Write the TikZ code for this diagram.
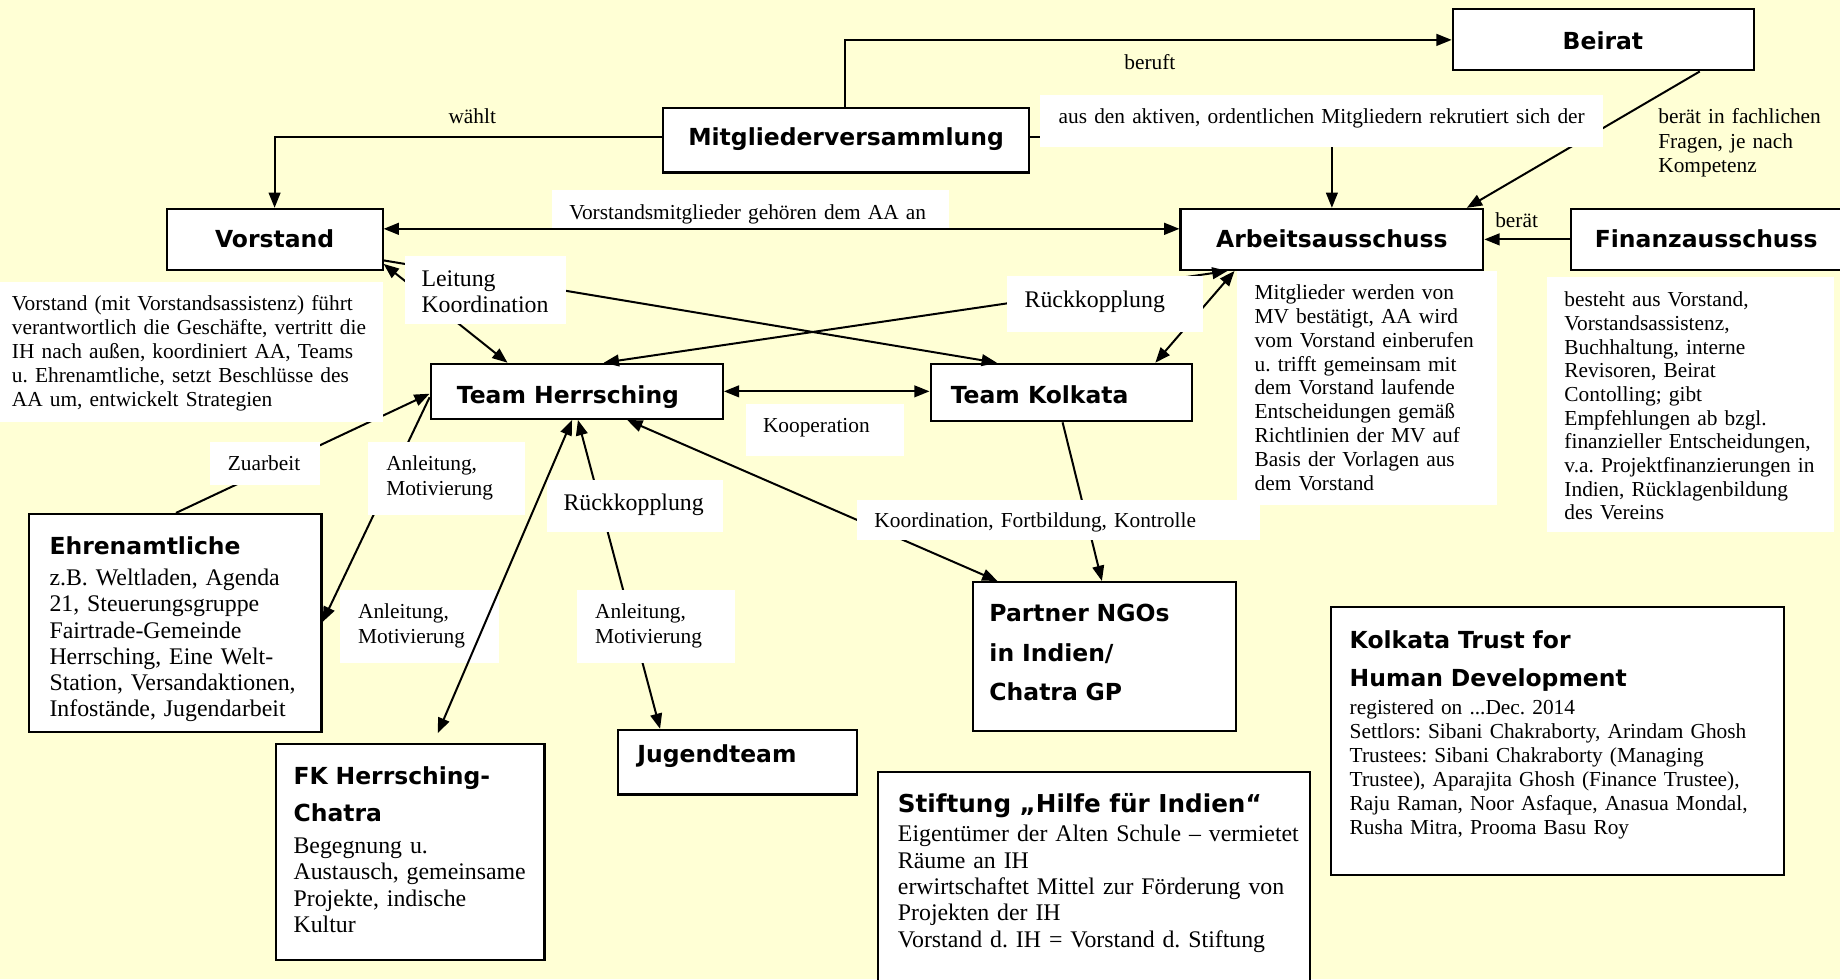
\documentclass[tikz,border=0pt]{standalone}
\usepackage{fontspec}
\setmainfont{Liberation Serif}
\newfontfamily\titlefont{DejaVu Sans}
\usetikzlibrary{arrows.meta}
\frenchspacing
\definecolor{bgyellow}{HTML}{FFFFD5}
\tikzset{
  box/.style={draw=black, line width=1.8pt, fill=white, inner sep=0pt},
  ttl/.style={inner sep=0pt, yshift=-5.5pt, font={\titlefont\bfseries\fontsize{20}{24}\selectfont}},
  ttlm/.style={inner sep=0pt, yshift=-5.5pt, anchor=mid west, align=left, text width=420pt},
  body/.style={inner sep=0pt, yshift=-5pt, anchor=mid west, align=left, text width=480pt, font={\fontsize{18.2}{20.5}\selectfont}},
  big/.style={inner sep=0pt, yshift=-5pt, anchor=mid west, align=left, text width=480pt, font={\fontsize{20.3}{22.4}\selectfont}},
  con/.style={line width=1.7pt, ->},
  bcon/.style={line width=1.7pt, <->},
  lbg/.style={fill=white},
}
\begin{document}
\begin{tikzpicture}[x=1pt, y=-1pt, >={Triangle[length=13pt,width=10pt]}]
\useasboundingbox (0,0) rectangle (1568,834.3);
\clip (0,0) rectangle (1568,834.3);
\fill[bgyellow] (0,0) rectangle (1568,834.3);

% boxes
\node[box, minimum width=257pt, minimum height=52pt] (beirat) at (1366.5,34) {};
\node[box, minimum width=312pt, minimum height=55pt] (mv) at (721,119.5) {};
\node[box, minimum width=184pt, minimum height=52pt] (vorstand) at (234,204) {};
\node[box, minimum width=258pt, minimum height=52pt] (aa) at (1135,204) {};
\node[box, minimum width=241pt, minimum height=52pt] (fa) at (1459.5,204) {};
\node[box, minimum width=249pt, minimum height=47pt] (th) at (491.5,333.5) {};
\node[box, minimum width=223pt, minimum height=49pt] (tk) at (904.5,334.5) {};
\node[box, minimum width=249pt, minimum height=186pt] (ehr) at (149.5,531) {};
\node[box, minimum width=229pt, minimum height=184pt] (fk) at (349.5,726) {};
\node[box, minimum width=203pt, minimum height=55pt] (jt) at (628.5,649.5) {};
\node[box, minimum width=224pt, minimum height=127pt] (ngo) at (941,559.5) {};
\node[box, minimum width=368pt, minimum height=192pt] (stift) at (932,754) {};
\node[box, minimum width=386pt, minimum height=229pt] (kt) at (1327,631.5) {};

% connectors
\draw[con] ([yshift=3pt]mv.west) -| (vorstand.north);
\draw[con] ([xshift=-1pt]mv.north) |- (beirat.west);
\draw[con] ([yshift=3pt]mv.east) -| (aa.north);
\draw[con] ([xshift=82pt]beirat.south) -- ([xshift=115pt]aa.north);
\draw[con] (fa.west) -- (aa.east);
\draw[bcon] ([yshift=9pt]vorstand.east) -- ([yshift=9pt]aa.west);
\draw[bcon] ([yshift=6pt]vorstand.south east) -- ([xshift=-59pt]th.north);
\draw[con] ([yshift=9pt]vorstand.south east) -- ([xshift=-55pt]tk.north);
\draw[bcon] ([xshift=23pt]th.north) -- ([xshift=-89pt]aa.south);
\draw[bcon] ([xshift=80pt]tk.north) -- ([xshift=-83pt]aa.south);
\draw[bcon] (th.east) -- (th.east -| tk.west);
\draw[con] ([xshift=0.5pt]ehr.north) -- ([yshift=-2pt]th.west);
\draw[con] ([yshift=-5pt]th.west) -- ([yshift=1pt]ehr.east);
\draw[bcon] ([xshift=1pt]th.south) -- ([xshift=-66pt]jt.north);
\draw[bcon] ([xshift=43pt]th.south) -- ([xshift=-91pt]ngo.north);
\draw[con] ([xshift=1pt]tk.south) -- ([xshift=-2pt]ngo.north);

% label backgrounds
\fill[lbg] (0,240) rectangle (326,360);
\fill[lbg] (886,81) rectangle (1366,125);
\fill[lbg] (470,162) rectangle (809,194);
\fill[lbg] (345,218) rectangle (482,276);
\fill[lbg] (858,235) rectangle (1025,283);
\fill[lbg] (1054,231) rectangle (1276,430);
\fill[lbg] (1318,236) rectangle (1563,453);
\fill[lbg] (636,344) rectangle (770,389);
\fill[lbg] (179,377) rectangle (273,413);
\fill[lbg] (314,377) rectangle (447,439);
\fill[lbg] (466,409) rectangle (616,453);
\fill[lbg] (290,503) rectangle (425,565);
\fill[lbg] (492,503) rectangle (626,565);
\fill[lbg] (730,426) rectangle (1074,460);

\draw[bcon, shorten >=9pt] ([xshift=-4pt]th.south) -- ([xshift=20pt]fk.north);

% titles
\node[ttl, anchor=mid] (t-beirat) at (1366,34) {Beirat};
\node[ttl, anchor=mid] (t-mv) at (721,116) {Mitgliederversammlung};
\node[ttl, anchor=mid] (t-vorstand) at (234,203) {Vorstand};
\node[ttl, anchor=mid] (t-aa) at (1135,203) {Arbeitsausschuss};
\node[ttl, anchor=mid] (t-fa) at (1454,203) {Finanzausschuss};
\node[ttl, anchor=mid] (t-th) at (484,336) {Team Herrsching};
\node[ttl, anchor=mid west] (t-tk) at (810,336) {Team Kolkata};
\node[ttl, anchor=mid west] (t-ehr) at (42,465) {Ehrenamtliche};
\node[ttlm, font={\titlefont\bfseries\fontsize{20}{31}\selectfont}] (t-fk) at (250,661) {FK Herrsching-\\Chatra};
\node[ttl, anchor=mid west] (t-jt) at (543,642) {Jugendteam};
\node[ttlm, font={\titlefont\bfseries\fontsize{20}{33.5}\selectfont}] (t-ngo) at (843,522) {Partner NGOs\\in Indien/\\Chatra GP};
\node[ttl, anchor=mid west, font={\titlefont\bfseries\fontsize{21}{24}\selectfont}] (t-stift) at (765,685) {Stiftung „Hilfe für Indien“};
\node[ttlm, font={\titlefont\bfseries\fontsize{20}{32}\selectfont}] (t-kt) at (1150,545) {Kolkata Trust for\\Human Development};

% connector labels
\node[body] (l-waehlt) at (382,98) {wählt};
\node[body] (l-beruft) at (958,52) {beruft};
\node[body] (l-aus) at (902,98) {aus den aktiven, ordentlichen Mitgliedern rekrutiert sich der};
\node[body] (l-vm) at (485,180) {Vorstandsmitglieder gehören dem AA an};
\node[big, font={\fontsize{20.3}{22}\selectfont}] (l-leit) at (359,237) {Leitung\\Koordination};
\node[big] (l-rk1) at (873,255) {Rückkopplung};
\node[body] (l-koop) at (650,361) {Kooperation};
\node[body] (l-zu) at (194,394) {Zuarbeit};
\node[body, font={\fontsize{18.2}{21}\selectfont}] (l-anl1) at (329,394) {Anleitung,\\Motivierung};
\node[big] (l-rk2) at (480,428) {Rückkopplung};
\node[body, font={\fontsize{18.2}{21}\selectfont}] (l-anl2) at (305,520) {Anleitung,\\Motivierung};
\node[body, font={\fontsize{18.2}{21}\selectfont}] (l-anl3) at (507,520) {Anleitung,\\Motivierung};
\node[body] (l-koord) at (745,442) {Koordination, Fortbildung, Kontrolle};
\node[body] (l-beraet) at (1274,187) {berät};
\node[body, font={\fontsize{18.2}{21}\selectfont}] (l-fach) at (1413,98) {berät in fachlichen\\Fragen, je nach\\Kompetenz};

% descriptions
\node[body, font={\fontsize{18.2}{20.6}\selectfont}] (d-vorstand) at (10,257) {Vorstand (mit Vorstandsassistenz) führt\\verantwortlich die Geschäfte, vertritt die\\IH nach außen, koordiniert AA, Teams\\u. Ehrenamtliche, setzt Beschlüsse des\\AA um, entwickelt Strategien};
\node[body, font={\fontsize{18.2}{20.3}\selectfont}] (d-aa) at (1069,248) {Mitglieder werden von\\MV bestätigt, AA wird\\vom Vorstand einberufen\\u. trifft gemeinsam mit\\dem Vorstand laufende\\Entscheidungen gemäß\\Richtlinien der MV auf\\Basis der Vorlagen aus\\dem Vorstand};
\node[body, font={\fontsize{18.2}{20.2}\selectfont}] (d-fa) at (1333,254) {besteht aus Vorstand,\\Vorstandsassistenz,\\Buchhaltung, interne\\Revisoren, Beirat\\Contolling; gibt\\Empfehlungen ab bzgl.\\finanzieller Entscheidungen,\\v.a. Projektfinanzierungen in\\Indien, Rücklagenbildung\\des Vereins};
\node[big, font={\fontsize{20.3}{22.2}\selectfont}] (d-ehr) at (42,492) {z.B. Weltladen, Agenda\\21, Steuerungsgruppe\\Fairtrade-Gemeinde\\Herrsching, Eine Welt-\\Station, Versandaktionen,\\Infostände, Jugendarbeit};
\node[big] (d-fk) at (250,720) {Begegnung u.\\Austausch, gemeinsame\\Projekte, indische\\Kultur};
\node[big, font={\fontsize{20.3}{22.5}\selectfont}] (d-stift) at (765,710) {Eigentümer der Alten Schule – vermietet\\Räume an IH\\erwirtschaftet Mittel zur Förderung von\\Projekten der IH\\Vorstand d. IH = Vorstand d. Stiftung};
\node[body, font={\fontsize{18.2}{20.4}\selectfont}] (d-kt) at (1150,602) {registered on ...Dec. 2014\\Settlors: Sibani Chakraborty, Arindam Ghosh\\Trustees: Sibani Chakraborty (Managing\\Trustee), Aparajita Ghosh (Finance Trustee),\\Raju Raman, Noor Asfaque, Anasua Mondal,\\Rusha Mitra, Prooma Basu Roy};
\end{tikzpicture}
\end{document}
